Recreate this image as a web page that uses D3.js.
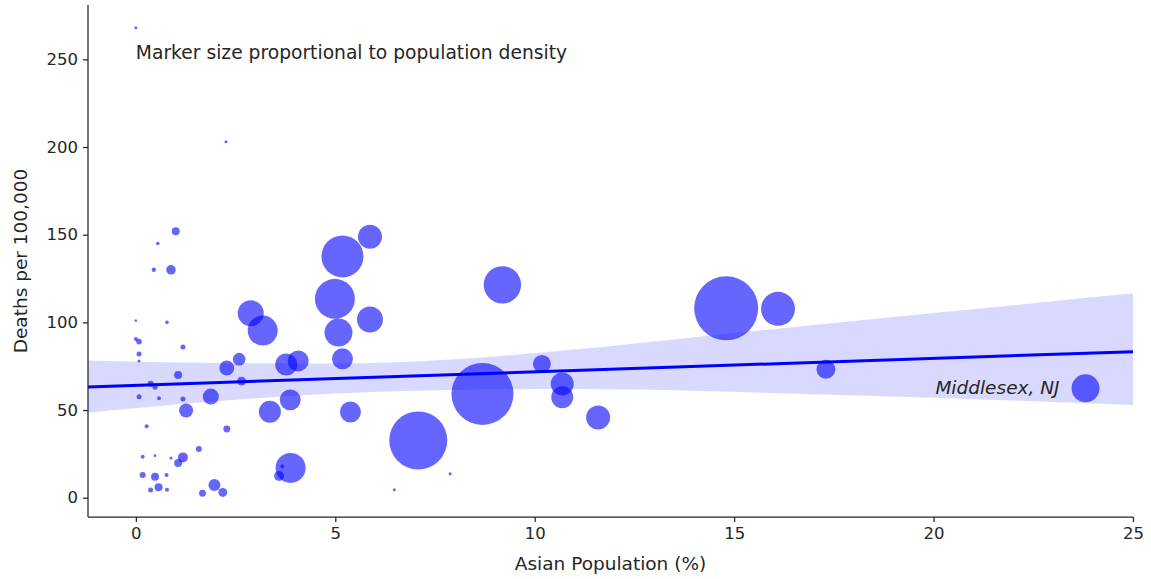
<!DOCTYPE html>
<html>
<head>
<meta charset="utf-8">
<script src="https://cdn.jsdelivr.net/npm/d3@7/dist/d3.min.js"></script>
<style>
  html, body { margin: 0; padding: 0; background: #fff; }
  text { font-family: "DejaVu Sans", sans-serif; fill: #262626; }
</style>
</head>
<body>
<svg id="chart" width="1151" height="579"></svg>
<script>
// ---- data ----
const asianPct = [0.00, 2.26, 1.00, 0.55, 0.45, 0.88, 0.00, 0.78, 0.00, 0.08,
  0.08, 0.08, 1.18, 1.06, 0.37, 0.48, 0.08, 0.58, 1.18, 1.26,
  1.88, 2.28, 2.59, 2.65, 2.88, 3.18, 3.36, 3.77, 4.07, 3.87,
  4.99, 5.18, 5.87, 5.87, 5.08, 5.18, 5.38, 0.27, 2.28, 0.17,
  0.48, 0.88, 1.06, 1.18, 1.58, 0.17, 0.48, 0.77, 0.37, 0.57,
  0.78, 1.67, 1.97, 2.18, 3.88, 3.59, 3.67, 7.08, 7.88, 6.48,
  8.69, 9.19, 10.18, 10.69, 10.69, 11.59, 14.8, 16.1, 17.3, 23.81];
const deaths = [268, 203, 152, 145, 130, 130, 101, 100, 90.5, 89,
  82, 78, 86, 70, 65, 63, 57.6, 56.7, 56.3, 49.7,
  57.7, 74, 79, 66.5, 105.2, 95.3, 49, 76, 78, 55.8,
  113.4, 137.6, 148.8, 101.6, 94.2, 79.2, 48.9, 40.7, 39.2, 23.4,
  24, 22.6, 19.8, 23, 27.8, 13, 12, 13, 4.4, 6,
  4.6, 2.5, 7.2, 3, 17, 12.4, 17.9, 32.7, 13.6, 4.5,
  59.2, 121.4, 76.3, 64.9, 57.3, 45.8, 108, 107.7, 73.2, 62.4];
// population density (relative units, marker area proportional to it)
const density = [2.3, 2.3, 16, 3.2, 4.8, 23, 1.7, 3.2, 4, 7.8,
  6.3, 2.3, 6.3, 16, 9, 6.3, 6.3, 4, 6.3, 49,
  64, 56, 40, 20, 169, 225, 121, 121, 110, 110,
  400, 441, 144, 169, 196, 110, 110, 4, 12, 4,
  1.7, 2.3, 16, 25, 9, 9, 16, 4, 6.3, 16,
  4, 12, 36, 20, 225, 25, 4, 841, 2.3, 2.3,
  961, 350, 81, 132, 121, 144, 1024, 289, 90, 196];

const fitX = [-1.2, 25];
const fitY = [63.2, 83.3];
const bandX = [-1.2, 2, 5, 8, 11, 14, 17, 20, 25];
const bandUpper = [78.2, 76.8, 76.5, 79.0, 84.5, 91.5, 98.5, 105.3, 116.6];
const bandLower = [48.5, 55.0, 59.5, 61.5, 62.0, 61.0, 59.0, 57.0, 52.9];

const xTicks = [0, 5, 10, 15, 20, 25];
const yTicks = [0, 50, 100, 150, 200, 250];

const annotationText = "Marker size proportional to population density";
const labelText = "Middlesex, NJ";
const xLabel = "Asian Population (%)";
const yLabel = "Deaths per 100,000";

// ---- layout ----
const svg = d3.select("#chart");
const mLeft = 88, mRight = 1133, mTop = 5, mBottom = 517;

const x = d3.scaleLinear().domain([-1.2, 25]).range([mLeft, mRight]);
const y = d3.scaleLinear().domain([-11, 281]).range([mBottom, mTop]);
const r = d3.scaleSqrt().domain([0, 1000]).range([0, Math.sqrt(1000)]);

const pts = asianPct.map((v, i) => ({x: v, y: deaths[i], d: density[i]}));

// CI band
const band = bandX.map((v, i) => ({x: v, hi: bandUpper[i], lo: bandLower[i]}));
svg.append("path")
  .datum(band)
  .attr("d", d3.area().x(d => x(d.x)).y0(d => y(d.lo)).y1(d => y(d.hi)).curve(d3.curveMonotoneX))
  .attr("fill", "rgb(0,0,255)")
  .attr("fill-opacity", 0.15);

// points
svg.append("g").selectAll("circle")
  .data(pts)
  .join("circle")
  .attr("cx", d => x(d.x))
  .attr("cy", d => y(d.y))
  .attr("r", d => r(d.d))
  .attr("fill", "blue")
  .attr("fill-opacity", 0.6);

// regression line
svg.append("path")
  .datum(fitX.map((v, i) => ({x: v, y: fitY[i]})))
  .attr("d", d3.line().x(d => x(d.x)).y(d => y(d.y)))
  .attr("stroke", "blue")
  .attr("stroke-width", 3)
  .attr("fill", "none");

// axes
const xAxis = svg.append("g")
  .attr("transform", `translate(0,${mBottom})`)
  .call(d3.axisBottom(x).tickValues(xTicks).tickSize(5).tickPadding(5).tickSizeOuter(0));
const yAxis = svg.append("g")
  .attr("transform", `translate(${mLeft},0)`)
  .call(d3.axisLeft(y).tickValues(yTicks).tickSize(5).tickPadding(5).tickSizeOuter(0));

[xAxis, yAxis].forEach(g => {
  g.select(".domain").attr("stroke", "#262626").attr("stroke-width", 1.25);
  g.selectAll(".tick line").attr("stroke", "#262626").attr("stroke-width", 1.25);
  g.selectAll(".tick text").attr("font-size", 16.5).attr("font-family", "DejaVu Sans").attr("fill", "#262626");
});
xAxis.select(".domain").attr("d", `M${mLeft},0H${mRight}`);
yAxis.select(".domain").attr("d", `M0,${mTop}V${mBottom}`);

// labels
svg.append("text")
  .attr("x", (mLeft + mRight) / 2)
  .attr("y", 570)
  .attr("text-anchor", "middle")
  .attr("font-size", 18.5)
  .text(xLabel);

svg.append("text")
  .attr("transform", `translate(27,${(mTop + mBottom) / 2}) rotate(-90)`)
  .attr("text-anchor", "middle")
  .attr("font-size", 18.5)
  .text(yLabel);

svg.append("text")
  .attr("x", x(0))
  .attr("y", y(250))
  .attr("font-size", 18.7)
  .text(annotationText);

const mid = pts[pts.length - 1];
svg.append("text")
  .attr("x", x(mid.x) - 26)
  .attr("y", y(mid.y) + 6)
  .attr("text-anchor", "end")
  .attr("font-size", 18.5)
  .attr("font-style", "italic")
  .text(labelText);
</script>
</body>
</html>
